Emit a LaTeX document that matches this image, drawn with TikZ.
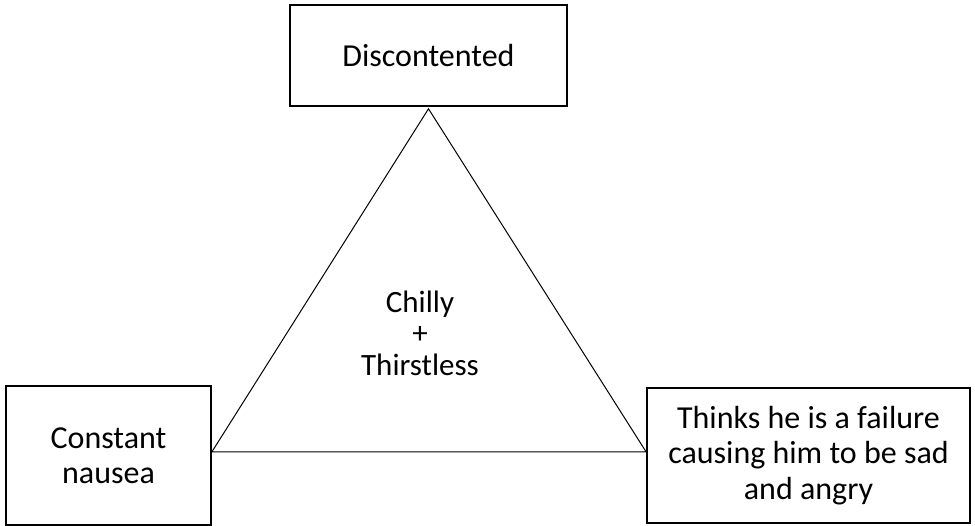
\documentclass[tikz,border=0pt]{standalone}
\usepackage{fontspec}
\setmainfont{Carlito}
\begin{document}
\begin{tikzpicture}[x=1pt,y=-1pt,
  box/.style={draw=black,line width=1.6pt,align=center,inner sep=0pt,
    font=\fontsize{32}{35.5}\selectfont},
  side/.style={draw=black,line width=1pt}]
\useasboundingbox (0,0) rectangle (975,526);
\node[box,minimum width=277pt,minimum height=101pt] (top) at (428.5,55.5) {Discontented};
\node[box,minimum width=205pt,minimum height=139pt] (left) at (108.5,455.5) {Constant\\nausea};
\node[box,minimum width=323pt,minimum height=135pt] (right) at (808.5,455.5) {Thinks he is a failure\\causing him to be sad\\and angry};
\node[align=center,inner sep=0pt,font=\fontsize{31}{31.5}\selectfont] (mid) at (420,333) {Chilly\\+\\Thirstless};
\coordinate (apex) at ([yshift=-2pt]top.south);
\coordinate (lv) at ([yshift=3.5pt]left.east);
\coordinate (rv) at ([yshift=3.5pt]right.west);
\draw[side] (apex) -- (lv) -- (rv) -- cycle;
\end{tikzpicture}
\end{document}
